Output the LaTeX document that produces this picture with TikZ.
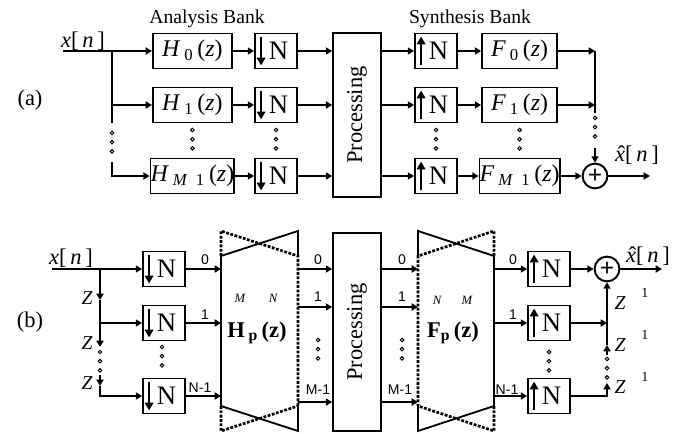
\documentclass[tikz,border=0pt]{standalone}
\usepackage{fontspec}
\setmainfont{Liberation Serif}
\newfontfamily\idxfont{Liberation Sans}
\usetikzlibrary{arrows.meta}
\newcommand{\filt}[2]{\textit{#1}\,\textsubscript{#2}\,(\textit{z})}
\newcommand{\xhat}{{\ooalign{\textit{x}\cr\hidewidth\hspace{0.12em}\char"02C6\hidewidth\cr}}}
\tikzset{
  blockbox/.style={draw=black, line width=1.3pt, minimum height=0.875cm, inner sep=0pt, font=\fontsize{17}{17}\selectfont},
  ratebox/.style={draw=black, line width=1.3pt, minimum width=1.05cm, minimum height=0.875cm, inner sep=0pt, font=\fontsize{19}{19}\selectfont},
  procbox/.style={draw=black, line width=1.4pt, minimum width=1.2cm, inner sep=0pt, font=\fontsize{16}{16}\selectfont},
  adder/.style={circle, draw=black, line width=1.4pt, minimum size=0.62cm, inner sep=0pt, font=\fontsize{18}{18}\selectfont\bfseries},
  sig/.style={line width=1.7pt, -{Triangle[length=4.5pt,width=5pt]}},
  ratearrow/.style={line width=1.4pt, -{Triangle[length=5.5pt,width=6pt]}},
  trapline/.style={line width=1.3pt, line join=miter},
  trapdots/.style={line width=1.9pt, dash pattern=on 2pt off 1.1pt},
  dotring/.style={line width=0.7pt, draw=black},
  banktext/.style={font=\fontsize{14}{16}\selectfont},
  sigtext/.style={font=\fontsize{16}{16}\selectfont},
  parttext/.style={font=\fontsize{16}{16}\selectfont},
  idxtext/.style={font=\idxfont\fontsize{10}{10}\selectfont},
  ztext/.style={font=\fontsize{14}{14}\selectfont\itshape},
  dimtext/.style={font=\fontsize{9}{9}\selectfont\itshape},
  onetext/.style={font=\fontsize{10}{10}\selectfont},
  polytext/.style={font=\fontsize{16}{16}\selectfont\bfseries},
}
\begin{document}
\begin{tikzpicture}
\useasboundingbox (0,0) rectangle (16.95,10.825);
\node[banktext] (anaT) at (5.175,10.35) {Analysis Bank};
\node[banktext] (synT) at (11.75,10.35) {Synthesis Bank};
\node[parttext] (tagA) at (0.75,8.325) {(a)};
\node[parttext] (tagB) at (0.75,2.775) {(b)};
\node[sigtext] (xA) at (2.075,9.8) {\textit{x}[\,\textit{n}\,]};
\node[sigtext] (xhatA) at (15.925,6.95) {\xhat[\,\textit{n}\,]};
\node[sigtext] (xB) at (1.775,4.375) {\textit{x}[\,\textit{n}\,]};
\node[sigtext] (xhatB) at (16.2,4.425) {\xhat[\,\textit{n}\,]};
\node[blockbox, minimum width=1.975cm] (hA0) at (4.81,9.55) {\filt{H}{0}};
\node[blockbox, minimum width=1.975cm] (hA1) at (4.81,8.2) {\filt{H}{1}};
\node[blockbox, minimum width=1.975cm] (hA2) at (4.81,6.425) {\filt{H}{\textit{M}\ \ 1}};
\node[ratebox] (dA0) at (6.9,9.55) {\hspace*{0.125cm}N};
\node[ratebox] (dA1) at (6.9,8.2) {\hspace*{0.125cm}N};
\node[ratebox] (dA2) at (6.9,6.425) {\hspace*{0.125cm}N};
\node[procbox, minimum height=4.1cm] (procA) at (8.93,7.95) {\rotatebox{90}{Processing}};
\node[ratebox] (uA0) at (10.9,9.55) {\hspace*{0.125cm}N};
\node[ratebox] (uA1) at (10.9,8.2) {\hspace*{0.125cm}N};
\node[ratebox] (uA2) at (10.9,6.425) {\hspace*{0.125cm}N};
\node[blockbox, minimum width=1.875cm] (fA0) at (12.99,9.55) {\filt{F}{0}};
\node[blockbox, minimum width=1.875cm] (fA1) at (12.99,8.2) {\filt{F}{1}};
\node[blockbox, minimum width=1.875cm] (fA2) at (12.99,6.425) {\filt{F}{\textit{M}\ \ 1}};
\node[adder] (sumA) at (14.875,6.425) {+};
\coordinate (inA) at (1.575,9.55);
\coordinate (jA0) at (2.8,9.55);
\coordinate (jA1) at (2.8,8.2);
\coordinate (jA2) at (2.8,6.425);
\coordinate (jAtop) at (2.8,7.75);
\coordinate (jAbot) at (2.8,6.775);
\coordinate (busA0) at (14.875,9.55);
\coordinate (busA1) at (14.875,8.2);
\coordinate (busAtop) at (14.875,8.0);
\coordinate (busAbot) at (14.875,7.125);
\coordinate (outA) at (16.25,6.425);
\draw[line width=1.7pt] (inA) -- (jA0) -- (jAtop);
\draw[sig] (jA0) -- (hA0.west);
\draw[sig] (jA1) -- (hA1.west);
\draw[sig] (jAbot) -- (jA2) -- (hA2.west);
\draw[sig] (hA0) -- (dA0);
\draw[sig] (hA1) -- (dA1);
\draw[sig] (hA2) -- (dA2);
\draw[sig] (dA0.east) -- (dA0.east -| procA.west);
\draw[sig] (dA1.east) -- (dA1.east -| procA.west);
\draw[sig] (dA2.east) -- (dA2.east -| procA.west);
\draw[sig] (procA.east |- uA0) -- (uA0.west);
\draw[sig] (procA.east |- uA1) -- (uA1.west);
\draw[sig] (procA.east |- uA2) -- (uA2.west);
\draw[sig] (uA0) -- (fA0);
\draw[sig] (uA1) -- (fA1);
\draw[sig] (uA2) -- (fA2);
\draw[sig] (fA0.east) -- (busA0);
\draw[sig] (fA1.east) -- (busA1);
\draw[line width=1.7pt] (busA0) -- (busAtop);
\draw[sig] (busAbot) -- (sumA.north);
\draw[sig] (fA2) -- (sumA);
\draw[sig] (sumA) -- (outA);
\node[ratebox] (dB0) at (4.1,4.1) {\hspace*{0.125cm}N};
\node[ratebox] (dB1) at (4.1,2.75) {\hspace*{0.125cm}N};
\node[ratebox] (dB2) at (4.1,0.925) {\hspace*{0.125cm}N};
\node[procbox, minimum height=4.95cm] (procB) at (8.93,2.525) {\rotatebox{90}{Processing}};
\node[ratebox] (uB0) at (13.725,4.1) {\hspace*{0.125cm}N};
\node[ratebox] (uB1) at (13.725,2.75) {\hspace*{0.125cm}N};
\node[ratebox] (uB2) at (13.725,0.925) {\hspace*{0.125cm}N};
\node[adder] (sumB) at (15.175,4.1) {+};
\draw[trapline] (5.525,4.425) -- (7.45,5.05) -- (7.45,4.425);
\draw[trapline] (5.525,4.425) -- (5.525,0.675);
\draw[trapline] (5.525,0.675) -- (7.45,0.05) -- (7.45,0.675);
\draw[trapdots] (5.525,4.425) -- (5.525,5.05) -- (7.45,4.425) -- (7.45,0.675);
\draw[trapdots] (5.525,0.675) -- (5.525,0.05) -- (7.45,0.675);
\draw[trapline] (12.35,4.425) -- (10.45,5.05) -- (10.45,4.425);
\draw[trapline] (12.35,4.425) -- (12.35,0.675);
\draw[trapline] (12.35,0.675) -- (10.45,0.05) -- (10.45,0.675);
\draw[trapdots] (12.35,4.425) -- (12.35,5.05) -- (10.45,4.425) -- (10.45,0.675);
\draw[trapdots] (12.35,0.675) -- (12.35,0.05) -- (10.45,0.675);
\node[dimtext] (hpM) at (6.0,3.375) {M};
\node[dimtext] (hpN) at (6.825,3.375) {N};
\node[polytext] (hpT) at (6.425,2.5) {H\,\textsubscript{p}\,(z)};
\node[dimtext] (fpN) at (10.925,3.325) {N};
\node[dimtext] (fpM) at (11.675,3.325) {M};
\node[polytext] (fpT) at (11.325,2.5) {F\textsubscript{p}\,(z)};
\coordinate (inB) at (1.3,4.1);
\coordinate (jB0) at (2.5,4.1);
\coordinate (zB1) at (2.5,3.325);
\coordinate (jB1) at (2.5,2.75);
\coordinate (zB2) at (2.5,2.15);
\coordinate (zB3a) at (2.5,1.45);
\coordinate (zB3) at (2.5,1.175);
\coordinate (jB2) at (2.5,0.925);
\coordinate (hin0) at (5.525,4.1);
\coordinate (hin1) at (5.525,2.75);
\coordinate (hin2) at (5.525,0.925);
\coordinate (hout0) at (7.45,4.1);
\coordinate (hout1) at (7.45,3.15);
\coordinate (hout2) at (7.45,0.775);
\coordinate (fin0) at (10.45,4.1);
\coordinate (fin1) at (10.45,3.15);
\coordinate (fin2) at (10.45,0.775);
\coordinate (fout0) at (12.35,4.1);
\coordinate (fout1) at (12.35,2.75);
\coordinate (fout2) at (12.35,0.925);
\coordinate (busB1) at (15.175,2.75);
\coordinate (busB2) at (15.175,0.925);
\coordinate (zC3) at (15.175,1.25);
\coordinate (zC2a) at (15.175,1.95);
\coordinate (zC2) at (15.175,2.2);
\coordinate (outB) at (16.55,4.1);
\draw[line width=1.7pt] (inB) -- (jB0);
\draw[sig] (jB0) -- (dB0.west);
\draw[sig] (jB0) -- (zB1);
\draw[sig] (zB1) -- (zB2);
\draw[sig] (jB1) -- (dB1.west);
\draw[sig] (zB3a) -- (zB3);
\draw[sig] (zB3) -- (jB2) -- (dB2.west);
\draw[sig] (dB0.east) -- (hin0);
\draw[sig] (dB1.east) -- (hin1);
\draw[sig] (dB2.east) -- (hin2);
\draw[sig] (hout0) -- (hout0 -| procB.west);
\draw[sig] (hout1) -- (hout1 -| procB.west);
\draw[sig] (hout2) -- (hout2 -| procB.west);
\draw[sig] (procB.east |- fin0) -- (fin0);
\draw[sig] (procB.east |- fin1) -- (fin1);
\draw[sig] (procB.east |- fin2) -- (fin2);
\draw[sig] (fout0) -- (uB0.west);
\draw[sig] (fout1) -- (uB1.west);
\draw[sig] (fout2) -- (uB2.west);
\draw[sig] (uB0) -- (sumB);
\draw[sig] (sumB) -- (outB);
\draw[sig] (uB1.east) -- (busB1);
\draw[sig] (uB2.east) -- (busB2) -- (zC3);
\draw[sig] (zC2a) -- (zC2);
\draw[sig] (zC2) -- (sumB.south);
\foreach \b in {dA0,dA1,dA2,dB0,dB1,dB2}
  \draw[ratearrow] ([xshift=0.175cm,yshift=-0.1cm]\b.north west) -- ([xshift=0.175cm,yshift=0.1cm]\b.south west);
\foreach \b in {uA0,uA1,uA2,uB0,uB1,uB2}
  \draw[ratearrow] ([xshift=0.175cm,yshift=0.1cm]\b.south west) -- ([xshift=0.175cm,yshift=-0.1cm]\b.north west);
\foreach \x/\y in {2.8/7.5,4.81/7.575,6.9/7.575,10.9/7.575,12.99/7.575,14.875/7.875,2.5/2.025,4.05/2.15,7.95/2.325,10.05/2.325,13.725/2.025,15.175/1.85}
  \foreach \k in {0,1,2}
    \draw[dotring] (\x,\y-0.23*\k) circle (0.045);
\node[idxtext] (iB0) at (5.125,4.325) {0};
\node[idxtext] (iB1) at (5.125,2.95) {1};
\node[idxtext] (iB2) at (5.0,1.125) {N-1};
\node[idxtext] (iH0) at (7.95,4.325) {0};
\node[idxtext] (iH1) at (7.95,3.4) {1};
\node[idxtext] (iH2) at (7.95,1.075) {M-1};
\node[idxtext] (iF0) at (10.05,4.325) {0};
\node[idxtext] (iF1) at (10.05,3.4) {1};
\node[idxtext] (iF2) at (10.0,1.075) {M-1};
\node[idxtext] (iU0) at (12.825,4.325) {0};
\node[idxtext] (iU1) at (12.825,2.95) {1};
\node[idxtext] (iU2) at (12.675,1.075) {N-1};
\node[ztext] (zL1) at (2.175,3.375) {Z};
\node[ztext] (zL2) at (2.175,2.25) {Z};
\node[ztext] (zL3) at (2.175,1.25) {Z};
\node[ztext] (zR1) at (15.5,3.25) {Z};
\node[ztext] (zR2) at (15.5,2.2) {Z};
\node[ztext] (zR3) at (15.5,1.15) {Z};
\node[onetext] (oR1) at (16.125,3.5) {1};
\node[onetext] (oR2) at (16.125,2.45) {1};
\node[onetext] (oR3) at (16.125,1.4) {1};
\end{tikzpicture}
\end{document}
